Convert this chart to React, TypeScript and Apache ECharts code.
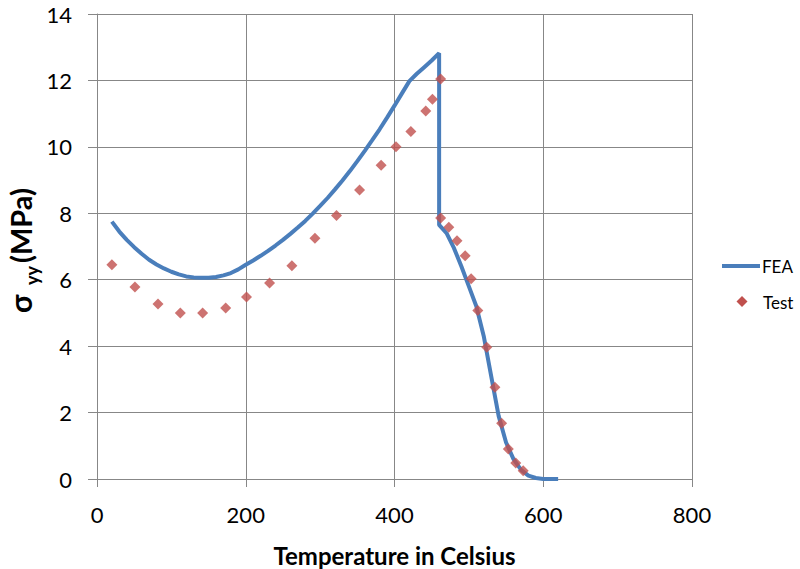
import React, { useEffect, useRef } from "react";
import * as echarts from "echarts";

const xTicks = [0, 200, 400, 600, 800];
const yTicks = [0, 2, 4, 6, 8, 10, 12, 14];

const feaTemp = [
  20, 30, 40, 50, 60, 70, 80, 90, 100, 110, 120, 130, 140, 150, 160, 170, 180, 190, 200,
  210, 220, 230, 240, 250, 260, 270, 280, 290, 300, 310, 320, 330, 340, 350, 360, 370, 380, 390,
  400, 410, 420, 430, 440, 450, 460, 460, 470, 480, 490,
  500, 510, 520, 530, 540, 550, 560, 570, 580, 590, 600, 620,
];
const feaStress = [
  7.75, 7.45, 7.2, 6.98, 6.78, 6.6, 6.46, 6.34, 6.24, 6.16, 6.1, 6.07, 6.06, 6.06, 6.08, 6.13, 6.2, 6.31, 6.45,
  6.58, 6.72, 6.87, 7.03, 7.2, 7.38, 7.57, 7.77, 7.99, 8.22, 8.46, 8.72, 8.99, 9.27, 9.57, 9.88, 10.2, 10.53, 10.88,
  11.24, 11.61, 11.98, 12.2, 12.4, 12.6, 12.82, 7.65, 7.4, 6.95, 6.4,
  5.8, 5.2, 4.3, 3.1, 1.9, 1.1, 0.6, 0.28, 0.1, 0.03, 0.0, 0.0,
];

const testTemp = [
  20, 51, 82, 112, 142, 173, 201, 232, 262, 293, 322, 353, 382, 402, 422, 442, 451, 462,
  462, 473, 484, 495, 503, 512, 524, 535, 544, 553, 563, 573,
];
const testStress = [
  6.45, 5.78, 5.27, 5.0, 5.0, 5.15, 5.48, 5.9, 6.42, 7.25, 7.93, 8.7, 9.45, 10.0, 10.46, 11.08, 11.43, 12.04,
  7.86, 7.58, 7.17, 6.72, 6.03, 5.07, 3.97, 2.76, 1.68, 0.9, 0.48, 0.25,
];

const seriesNames = ["FEA", "Test"];

const FONT = "Lato, 'DejaVu Sans', sans-serif";
const GRID_COLOR = "#878787";
const BLUE = "#4A7EBB";
const RED = "#C0504D";

export default function App() {
  const ref = useRef<HTMLDivElement>(null);
  useEffect(() => {
    if (!ref.current) return;
    const chart = echarts.init(ref.current, null, { renderer: "svg" });
    const fea = feaTemp.map((t, i) => [t, feaStress[i]]);
    const test = testTemp.map((t, i) => [t, testStress[i]]);
    chart.setOption({
      animation: false,
      backgroundColor: "#ffffff",
      textStyle: { fontFamily: FONT },
      grid: { left: 97, right: 108, top: 14, bottom: 90, outerBoundsMode: "none" },
      xAxis: {
        type: "value",
        min: xTicks[0],
        max: xTicks[xTicks.length - 1],
        interval: 200,
        name: "Temperature in Celsius",
        nameLocation: "middle",
        nameGap: 64,
        nameTextStyle: { fontFamily: FONT, fontSize: 24, fontWeight: "bold", color: "#000" },
        axisLine: { show: true, lineStyle: { color: GRID_COLOR, width: 1 } },
        axisTick: { show: true, length: 8, lineStyle: { color: GRID_COLOR } },
        axisLabel: { fontFamily: FONT, fontSize: 22, color: "#000", margin: 24 },
        splitLine: { show: true, lineStyle: { color: GRID_COLOR, width: 1 } },
      },
      yAxis: {
        type: "value",
        min: yTicks[0],
        max: yTicks[yTicks.length - 1],
        interval: 2,
        axisLine: { show: true, lineStyle: { color: GRID_COLOR, width: 1 } },
        axisTick: { show: true, length: 9, lineStyle: { color: GRID_COLOR } },
        axisLabel: { fontFamily: FONT, fontSize: 22, color: "#000", margin: 25 },
        splitLine: { show: true, lineStyle: { color: GRID_COLOR, width: 1 } },
      },
      legend: { show: false },
      series: [
        {
          name: seriesNames[0],
          type: "line",
          data: fea,
          symbol: "none",
          smooth: false,
          lineStyle: { color: BLUE, width: 4 },
          itemStyle: { color: BLUE },
          z: 2,
        },
        {
          name: seriesNames[1],
          type: "scatter",
          data: test,
          symbol: "diamond",
          symbolSize: 11,
          itemStyle: { color: RED },
          z: 3,
        },
      ],
      graphic: [
        {
          type: "group",
          x: 20,
          y: 313,
          rotation: Math.PI / 2,
          children: [
            {
              type: "text",
              x: 0,
              y: 0,
              style: {
                text: "σ",
                font: `bold 30px ${FONT}`,
                fill: "#000",
                align: "left",
                verticalAlign: "middle",
              },
            },
            {
              type: "text",
              x: 28,
              y: 12,
              style: {
                text: "yy",
                font: `bold 18px ${FONT}`,
                fill: "#000",
                align: "left",
                verticalAlign: "middle",
              },
            },
            {
              type: "text",
              x: 50,
              y: 0,
              style: {
                text: "(MPa)",
                font: `bold 29px ${FONT}`,
                fill: "#000",
                align: "left",
                verticalAlign: "middle",
              },
            },
          ],
        },
        {
          type: "line",
          shape: { x1: 722, y1: 266, x2: 760, y2: 266 },
          style: { stroke: BLUE, lineWidth: 4 },
        },
        {
          type: "text",
          x: 762,
          y: 266,
          style: {
            text: seriesNames[0],
            font: `17px ${FONT}`,
            fill: "#000",
            align: "left",
            verticalAlign: "middle",
          },
        },
        {
          type: "polygon",
          shape: { points: [[742, 296], [747.5, 301.5], [742, 307], [736.5, 301.5]] },
          style: { fill: RED },
        },
        {
          type: "text",
          x: 763,
          y: 302,
          style: {
            text: seriesNames[1],
            font: `17px ${FONT}`,
            fill: "#000",
            align: "left",
            verticalAlign: "middle",
          },
        },
      ],
    });
    return () => chart.dispose();
  }, []);
  return (
    <div
      ref={ref}
      style={{ position: "fixed", left: 0, top: 0, width: 800, height: 569 }}
    />
  );
}
